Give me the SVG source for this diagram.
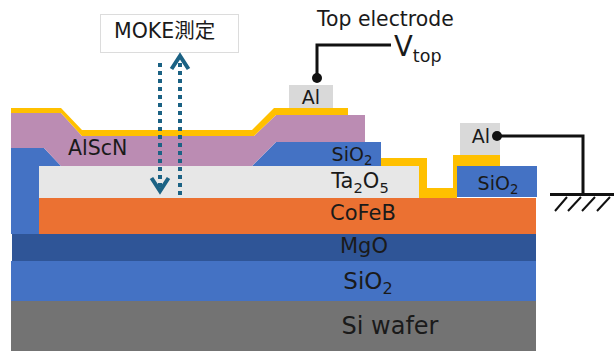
<svg xmlns="http://www.w3.org/2000/svg" width="614" height="351" viewBox="0 0 614 351">
<style>
text{font-family:"DejaVu Sans","Noto Sans CJK JP",sans-serif;fill:#1a1a1a}
.m{text-anchor:middle}
.wire{fill:none;stroke:#111;stroke-width:3}
.moke{fill:none;stroke:#1b6284}
.dot{stroke-width:4;stroke-dasharray:4 4}
.head{stroke-width:4}
tspan.s{font-size:70%}
</style>
<rect width="614" height="351" fill="#fff"/>
<g id="si-wafer"><rect x="11" y="301" width="525" height="50" fill="#737373"/><text class="m" x="390" y="334" font-size="24">Si wafer</text></g>
<g id="sio2-base"><rect x="11" y="261" width="525" height="40" fill="#4472c4"/><text class="m" x="368" y="289" font-size="23">SiO<tspan class="s" dy="5">2</tspan></text></g>
<g id="mgo"><rect x="12" y="234" width="524" height="27" fill="#2f5597"/><text class="m" x="364" y="253" font-size="21">MgO</text></g>
<g id="side-sio2"><polygon points="11,148 44,148 61,166 39,166 39,234 11,234" fill="#4472c4"/></g>
<g id="cofeb"><rect x="39" y="198" width="497" height="36" fill="#eb7132"/><text class="m" x="363" y="220" font-size="21">CoFeB</text></g>
<g id="ta2o5"><rect x="39" y="166" width="380" height="32" fill="#e7e7e7"/><text class="m" x="360" y="188" font-size="21">Ta<tspan class="s" dy="5">2</tspan><tspan dy="-5">O</tspan><tspan class="s" dy="5">5</tspan></text></g>
<g id="sio2-mid"><polygon points="252,166 276,142 381,142 381,166" fill="#4472c4"/><text class="m" x="352" y="161" font-size="19">SiO<tspan class="s" dy="4">2</tspan></text></g>
<g id="alscn"><polygon points="11,113 61,113 82,136 254,136 276,115 365,115 365,142 276,142 252,166 61,166 44,148 11,148" fill="#bb8cb3"/><text x="68" y="155" font-size="20.500">AlScN</text></g>
<g id="top-electrode-film"><polygon points="11,108 61,108 82,130 252,130 274,108 348,108 348,115 276,115 254,136 82,136 61,113 11,113" fill="#ffc000"/></g>
<g id="contact-film"><polygon points="381,158 427,158 427,188 453,188 453,155 500,155 500,166 457,166 457,198 419,198 419,166 381,166" fill="#ffc000"/></g>
<g id="sio2-right"><rect x="457" y="166" width="80" height="31" fill="#4472c4"/><text class="m" x="498" y="190" font-size="19">SiO<tspan class="s" dy="4">2</tspan></text></g>
<g id="al-top"><rect x="289" y="85" width="44" height="23" fill="#d9d9d9"/><text class="m" x="311" y="104" font-size="19">Al</text></g>
<g id="al-right"><rect x="460" y="123" width="40" height="32" fill="#d9d9d9"/><text class="m" x="481" y="143" font-size="19">Al</text></g>
<g id="moke-label"><rect x="100.500" y="14.500" width="138" height="38" fill="#fff" stroke="#dcdcdc"/><text x="114" y="38" font-size="20.500">MOKE測定</text></g>
<g id="top-label"><text x="317" y="26" font-size="20.400">Top electrode</text></g>
<g id="vtop-label"><text x="394" y="56" font-size="27.500">V<tspan font-size="17.500" dy="6">top</tspan></text></g>
<g id="connectors">
<path class="wire" d="M317 78V45H391"/><circle cx="317" cy="78" r="5" fill="#111"/>
<path class="wire" d="M497 136H583V194"/><circle cx="497" cy="136" r="5" fill="#111"/>
<path class="wire" d="M550 194.500H614"/>
<path d="M555 211L567 197M568 211L581 197M582 211L595 197M597 211L610 197" fill="none" stroke="#111" stroke-width="2"/>
<path class="moke dot" d="M160 63V190"/><path class="moke head" d="M151.500 178L160 191L168.500 178"/>
<path class="moke dot" d="M180 63V195"/><path class="moke head" d="M171.500 69L180 56L188.500 69"/>
</g>
</svg>
